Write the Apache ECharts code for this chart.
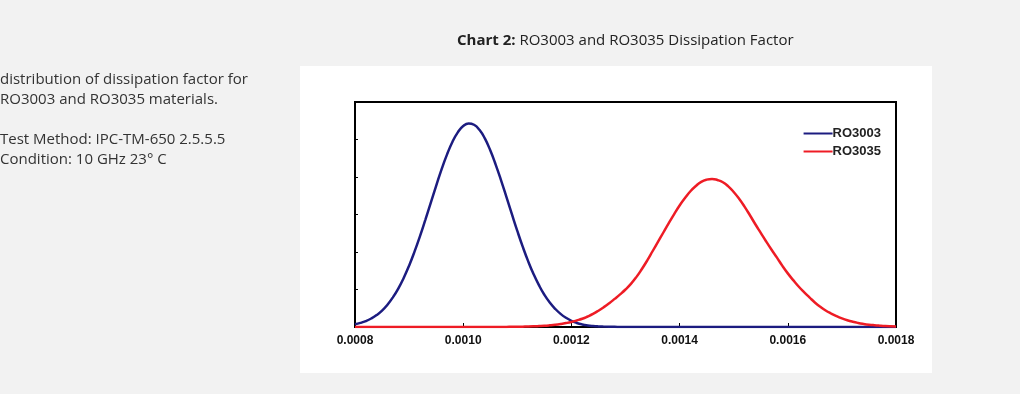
<!DOCTYPE html>
<html>
<head>
<meta charset="utf-8">
<script src="https://cdn.jsdelivr.net/npm/echarts@6/dist/echarts.min.js"></script>
<style>
html,body{margin:0;padding:0;background:#f2f2f2;}
#c{width:1020px;height:394px;}
</style>
</head>
<body>
<div id="c"></div>
<script>
var xValues = [
0.00080,0.00081,0.00082,0.00083,0.00084,0.00085,0.00086,0.00087,0.00088,0.00089,
0.00090,0.00091,0.00092,0.00093,0.00094,0.00095,0.00096,0.00097,0.00098,0.00099,
0.00100,0.00101,0.00102,0.00103,0.00104,0.00105,0.00106,0.00107,0.00108,0.00109,
0.00110,0.00111,0.00112,0.00113,0.00114,0.00115,0.00116,0.00117,0.00118,0.00119,
0.00120,0.00121,0.00122,0.00123,0.00124,0.00125,0.00126,0.00127,0.00128,0.00129,
0.00130,0.00131,0.00132,0.00133,0.00134,0.00135,0.00136,0.00137,0.00138,0.00139,
0.00140,0.00141,0.00142,0.00143,0.00144,0.00145,0.00146,0.00147,0.00148,0.00149,
0.00150,0.00151,0.00152,0.00153,0.00154,0.00155,0.00156,0.00157,0.00158,0.00159,
0.00160,0.00161,0.00162,0.00163,0.00164,0.00165,0.00166,0.00167,0.00168,0.00169,
0.00170,0.00171,0.00172,0.00173,0.00174,0.00175,0.00176,0.00177,0.00178,0.00179,
0.00180];
var ro3003 = [
0.073,0.109,0.158,0.226,0.318,0.438,0.595,0.789,1.025,1.309,
1.636,2.009,2.418,2.857,3.310,3.762,4.204,4.597,4.933,5.191,
5.359,5.429,5.394,5.258,5.028,4.711,4.332,3.911,3.462,3.007,
2.562,2.142,1.756,1.413,1.115,0.860,0.652,0.486,0.350,0.245,
0.165,0.108,0.068,0.042,0.026,0.016,0.010,0.006,0.004,0.002,
0.001,0.001,0,0,0,0,0,0,0,0,
0,0,0,0,0,0,0,0,0,0,
0,0,0,0,0,0,0,0,0,0,
0,0,0,0,0,0,0,0,0,0,
0,0,0,0,0,0,0,0,0,0,
0];
var ro3035 = [
0,0,0,0,0,0,0,0,0,0,
0,0,0,0,0,0,0,0,0,0,
0,0,0,0,0,0,0.001,0.002,0.003,0.004,
0.006,0.009,0.012,0.017,0.024,0.032,0.044,0.059,0.079,0.104,
0.135,0.175,0.22,0.28,0.35,0.435,0.53,0.635,0.75,0.87,
1.00,1.15,1.33,1.54,1.77,2.02,2.27,2.52,2.77,3.01,
3.24,3.44,3.62,3.76,3.87,3.93,3.95,3.92,3.86,3.75,
3.60,3.42,3.21,2.98,2.74,2.51,2.28,2.06,1.85,1.63,
1.43,1.25,1.08,0.93,0.79,0.655,0.54,0.44,0.36,0.29,
0.23,0.18,0.14,0.108,0.083,0.063,0.048,0.036,0.026,0.019,
0.014];
var seriesNames = ['RO3003','RO3035'];
var xTicks = ['0.0008','0.0010','0.0012','0.0014','0.0016','0.0018'];

function pairs(ys){ return xValues.map(function(x,i){ return [x, ys[i]]; }); }

var chart = echarts.init(document.getElementById('c'));
chart.setOption({
  animation:false,
  backgroundColor:'#f2f2f2',
  graphic:[
    {type:'rect', left:300, top:66, shape:{width:632, height:307}, style:{fill:'#ffffff'}, z:-10},
    {type:'text', left:0, top:70, style:{text:'distribution of dissipation factor for\nRO3003 and RO3035 materials.\n\nTest Method: IPC-TM-650 2.5.5.5\nCondition: 10 GHz 23° C', font:'15px "Open Sans"', fill:'#333333', lineHeight:20}},
    {type:'text', left:457, top:33, style:{text:'{b|Chart 2:} RO3003 and RO3035 Dissipation Factor', font:'15px "Open Sans"', fill:'#222222', rich:{b:{fontWeight:'bold', fontFamily:'Open Sans', fontSize:15, fill:'#222222'}}}}
  ],
  grid:{left:355, right:124, top:102, bottom:67, show:true, borderColor:'#000', borderWidth:2, backgroundColor:'#ffffff'},
  legend:{
    right:134, top:122, orient:'vertical', itemWidth:29, itemHeight:2, itemGap:5,
    icon:'rect',
    textStyle:{fontFamily:'Liberation Sans', fontWeight:'bold', fontSize:13, color:'#222', padding:[0,0,0,-5]},
    data:seriesNames
  },
  xAxis:{
    type:'value', min:0.0008, max:0.0018, interval:0.0002,
    axisLine:{show:true, onZero:false, lineStyle:{color:'#000', width:2}},
    axisTick:{show:true, inside:true, length:4, lineStyle:{color:'#000'}},
    splitLine:{show:false},
    axisLabel:{fontFamily:'Liberation Sans', fontWeight:'bold', fontSize:12, color:'#111', margin:8,
      formatter:function(v){ var s=v.toFixed(4); return xTicks.indexOf(s)>=0 ? s : ''; }}
  },
  yAxis:{
    type:'value', min:0, max:6, interval:1,
    axisLine:{show:true, lineStyle:{color:'#000', width:2}},
    axisTick:{show:true, inside:true, length:3, lineStyle:{color:'#000'}},
    splitLine:{show:false},
    axisLabel:{show:false}
  },
  series:[
    {name:seriesNames[0], type:'line', smooth:true, showSymbol:false, symbol:'none', data:pairs(ro3003),
      lineStyle:{color:'#1c1c80', width:2.5}, itemStyle:{color:'#1c1c80'}},
    {name:seriesNames[1], type:'line', smooth:true, showSymbol:false, symbol:'none', data:pairs(ro3035),
      lineStyle:{color:'#ee1c25', width:2.5}, itemStyle:{color:'#ee1c25'}}
  ]
});
</script>
</body>
</html>
